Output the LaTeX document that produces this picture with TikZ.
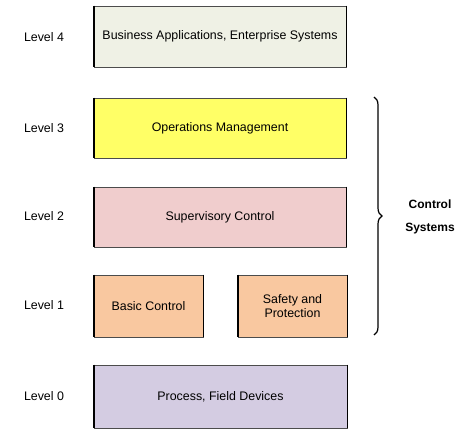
\documentclass[tikz,border=0pt]{standalone}
\usepackage{fontspec}
\setmainfont{Liberation Sans}
\usetikzlibrary{decorations.pathreplacing}
\definecolor{enterprisefill}{HTML}{EFF1E5}
\definecolor{operationsfill}{HTML}{FFFF66}
\definecolor{supervisoryfill}{HTML}{F0CDCD}
\definecolor{basicfill}{HTML}{F9C8A0}
\definecolor{processfill}{HTML}{D4CCE2}
\tikzset{
  levelbox/.style={draw=black!70,line width=0.8pt,inner sep=0pt,align=center,
    font=\fontsize{12.4}{14.5}\selectfont},
  levellabel/.style={font=\fontsize{12.4}{14.5}\selectfont},
  sideedge/.style={line width=1.8pt,black}
}
\newcommand{\sideedges}[1]{\draw[sideedge] (#1.north west)--(#1.south west);\draw[sideedge] (#1.north east)--(#1.south east);}

\begin{document}
\begin{tikzpicture}[x=1pt,y=1pt]
\useasboundingbox (0,0) rectangle (474,432);
\node[levelbox,fill=enterprisefill,minimum width=252pt,minimum height=61pt] (enterprise) at (220,395.5) {Business Applications, Enterprise Systems};
\node[levelbox,fill=operationsfill,minimum width=252pt,minimum height=60pt] (operations) at (220,304) {Operations Management};
\node[levelbox,fill=supervisoryfill,minimum width=252pt,minimum height=60pt] (supervisory) at (220,215) {Supervisory Control};
\node[levelbox,fill=basicfill,minimum width=109pt,minimum height=62pt] (basic) at (148.5,126) {Basic Control};
\node[levelbox,fill=basicfill,minimum width=109pt,minimum height=62pt] (safety) at (292.5,126) {Safety and\\Protection};
\node[levelbox,fill=processfill,minimum width=253pt,minimum height=63pt] (process) at (220.5,35.5) {Process, Field Devices};
\sideedges{enterprise}
\sideedges{operations}
\sideedges{supervisory}
\sideedges{basic}
\sideedges{safety}
\sideedges{process}
\node[levellabel] (lvfour) at (44,395) {Level 4};
\node[levellabel] (lvthree) at (44,304) {Level 3};
\node[levellabel] (lvtwo) at (44,216) {Level 2};
\node[levellabel] (lvone) at (44,127) {Level 1};
\node[levellabel] (lvzero) at (44,36) {Level 0};
\coordinate (bracetop) at (374,335);
\coordinate (bracebottom) at (374,97);
\draw[line width=1.2pt,decorate,decoration={brace,amplitude=8pt}] (bracetop)--(bracebottom);
\node[font=\bfseries\fontsize{12}{23}\selectfont,align=center] (controlsys) at (430,215.5) {Control\\Systems};
\end{tikzpicture}
\end{document}
